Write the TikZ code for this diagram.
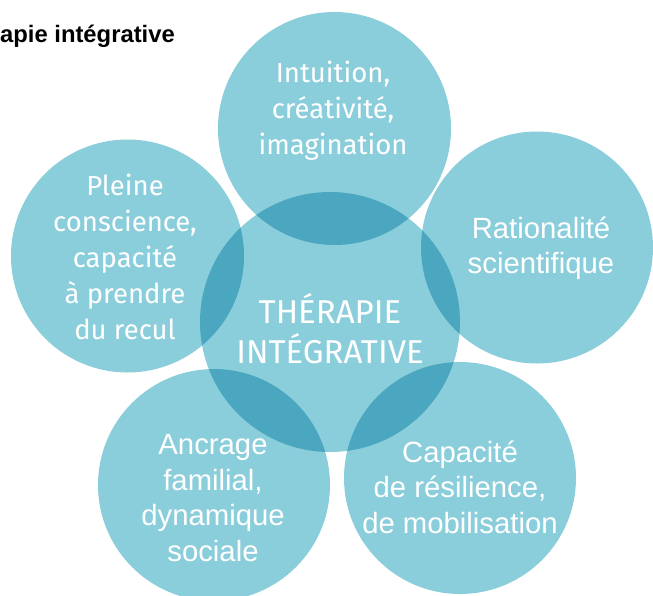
\documentclass[tikz,border=0pt]{standalone}
\usepackage{fontspec}
\setmainfont{Liberation Sans}
\newfontfamily\roundsans{Fira Sans}
\definecolor{lightteal}{HTML}{8BCEDB}
\definecolor{darkteal}{HTML}{4BA7BF}
\begin{document}
\begin{tikzpicture}[x=1pt,y=-1pt,
  bubble/.style={fill=lightteal},
  overlap/.style={fill=darkteal},
  roundlabel/.style={text=white,align=center,font=\roundsans\fontsize{27.5}{36}\selectfont},
  helvlabel/.style={text=white,align=center,font=\fontsize{29.3}{35.5}\selectfont},
  centrelabel/.style={text=white,align=center,font=\roundsans\fontsize{33}{40}\selectfont},
  titlelabel/.style={text=black,font=\bfseries\fontsize{23.8}{28}\selectfont,inner sep=0pt}
]
\useasboundingbox (0,0) rectangle (653,595);
% circles
\def\circT{(334.5,128.5) circle[radius=116.5]}
\def\circL{(127.5,256) circle[radius=116.5]}
\def\circR{(537,247.5) circle[radius=116]}
\def\circC{(330,322) circle[radius=130]}
\def\circBL{(214,485) circle[radius=116]}
\def\circBR{(460,478) circle[radius=116]}
\fill[bubble] \circT;
\fill[bubble] \circL;
\fill[bubble] \circR;
\fill[bubble] \circC;
\fill[bubble] \circBL;
\fill[bubble] \circBR;
\begin{scope}\clip \circT; \fill[overlap] \circC; \end{scope}
\begin{scope}\clip \circL; \fill[overlap] \circC; \end{scope}
\begin{scope}\clip \circR; \fill[overlap] \circC; \end{scope}
\begin{scope}\clip \circBL; \fill[overlap] \circC; \end{scope}
\begin{scope}\clip \circBR; \fill[overlap] \circC; \end{scope}
% labels
\node[titlelabel,anchor=base west] (title) at (0,42.5) {apie intégrative};
\node[roundlabel] (intuition) at (333,111) {Intuition,\\créativité,\\imagination};
\node[roundlabel] (pleine) at (125,257) {Pleine\\conscience,\\capacité\\à prendre\\du recul};
\node[helvlabel] (ratio) at (541,248) {Rationalité\\scientifique};
\node[centrelabel] (centre) at (330,329) {THÉRAPIE\\INTÉGRATIVE};
\node[helvlabel] (ancrage) at (213,498) {Ancrage\\familial,\\dynamique\\sociale};
\node[helvlabel] (capac) at (460,487) {Capacité\\de résilience,\\de mobilisation};
\end{tikzpicture}
\end{document}
